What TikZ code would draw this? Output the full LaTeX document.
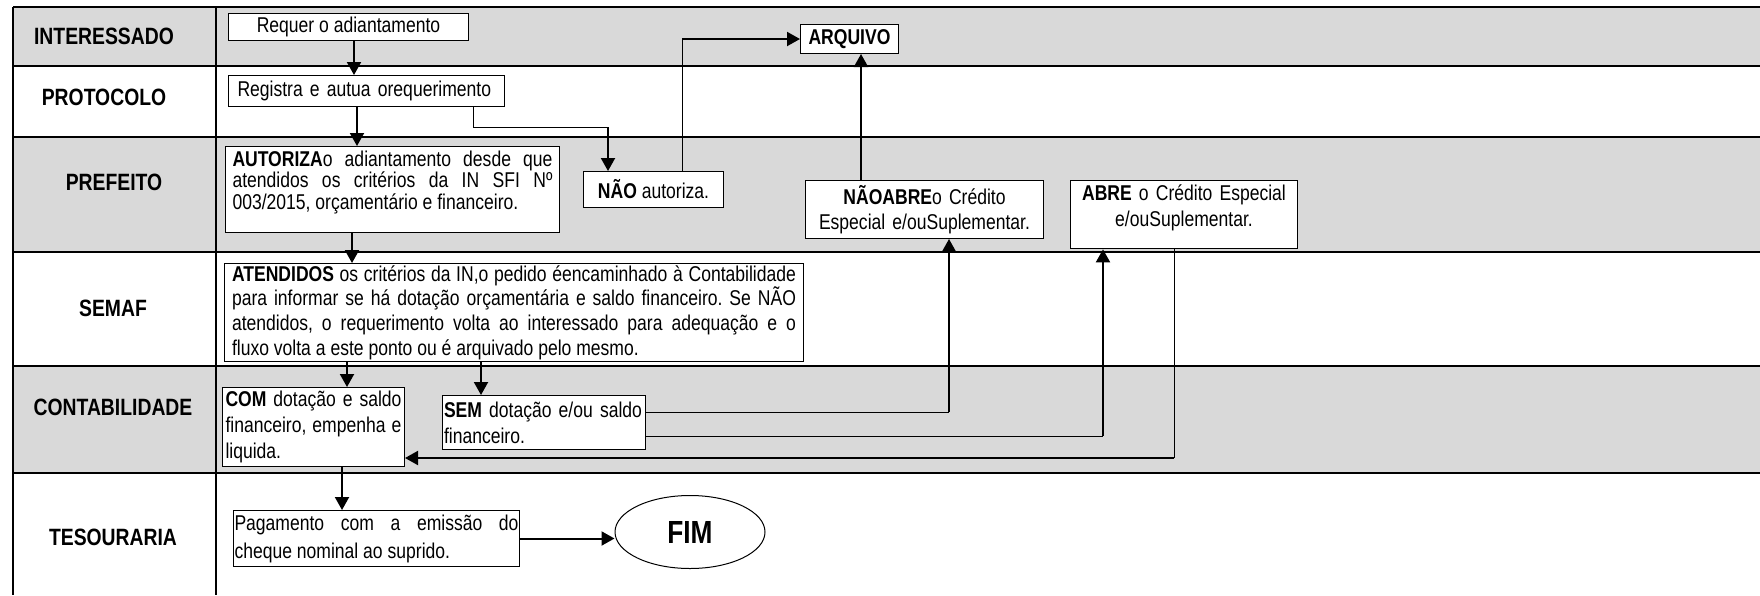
\documentclass[tikz,border=0pt]{standalone}
\usepackage{fontspec}
\setmainfont[FakeStretch=0.82]{Liberation Sans}
\usetikzlibrary{arrows.meta,shapes.geometric}

\definecolor{cinza}{HTML}{D9D9D9}

\tikzset{
  caixa/.style={draw, line width=0.5pt, fill=white, anchor=north west, inner sep=1pt,
    font=\fontsize{10.7pt}{12.5pt}\selectfont},
  raia/.style={font=\bfseries\fontsize{11.8pt}{14pt}\selectfont},
  fluxo/.style={line width=1pt, -{Triangle[length=6.5pt,width=7pt]}},
  ligacao/.style={line width=0.5pt},
  divisa/.style={line width=1pt}
}

\frenchspacing

\begin{document}
\begin{tikzpicture}[x=0.5pt,y=-0.5pt]

\useasboundingbox (0,0) rectangle (1760,595);

% Raias cinzas
\fill[cinza] (13,7) rectangle (1760,66);
\fill[cinza] (13,137) rectangle (1760,252);
\fill[cinza] (13,366) rectangle (1760,473);

% Linhas das raias
\draw[divisa] (13,7) -- (1760,7);
\draw[divisa] (13,66) -- (1760,66);
\draw[divisa] (13,137) -- (1760,137);
\draw[divisa] (13,252) -- (1760,252);
\draw[divisa] (13,366) -- (1760,366);
\draw[divisa] (13,473) -- (1760,473);
\draw[divisa] (13,7) -- (13,595);
\draw[divisa] (216,7) -- (216,595);

% Nomes das raias
\node[raia] (rInt) at (104,36) {INTERESSADO};
\node[raia] (rPro) at (104,97) {PROTOCOLO};
\node[raia] (rPre) at (114,182) {PREFEITO};
\node[raia] (rSem) at (113,308) {SEMAF};
\node[raia] (rCon) at (113,407) {CONTABILIDADE};
\node[raia] (rTes) at (113,537) {TESOURARIA};

% Caixas
\node[caixa, minimum width=120pt, minimum height=13.5pt] (req) at (228,13) {Requer o adiantamento};
\node[caixa, text width=129pt, inner xsep=4.5pt, minimum height=15.5pt, align=left] (reg) at (228,75) {Registra e autua orequerimento};
\node[caixa, text width=160pt, inner xsep=3.5pt, inner ysep=2pt, align=justify,
  font=\fontsize{10.7pt}{10.9pt}\selectfont] (aut) at (225,146)
  {\textbf{AUTORIZA}o adiantamento desde que\linebreak atendidos os critérios da IN SFI Nº\linebreak 003/2015, orçamentário e financeiro.\rule[-9.5pt]{0pt}{9.5pt}};
\node[caixa, minimum width=70pt, minimum height=18pt] (nao) at (583,171) {\textbf{NÃO} autoriza.};
\node[caixa, minimum width=49pt, minimum height=14.5pt, font=\bfseries\fontsize{10.7pt}{12pt}\selectfont] (arq) at (800,24) {ARQUIVO};
\node[caixa, text width=115pt, inner xsep=2pt, minimum height=29pt, align=center] (naoabre) at (805,180)
  {\textbf{NÃOABRE}o Crédito\\Especial e/ouSuplementar.};
\node[caixa, text width=109.5pt, inner xsep=2pt, inner ysep=2pt, align=center,
  font=\fontsize{10.7pt}{13.3pt}\selectfont] (abre) at (1070,180)
  {\textbf{ABRE} o Crédito Especial\\e/ouSuplementar.\rule[-9pt]{0pt}{9pt}};
\node[caixa, text width=282pt, inner xsep=3.75pt, inner ysep=1pt, align=justify,
  font=\fontsize{10.7pt}{12.3pt}\selectfont] (semaf) at (224,263)
  {\textbf{ATENDIDOS} os critérios da IN,o pedido éencaminhado à Contabilidade\linebreak para informar se há dotação orçamentária e saldo financeiro. Se NÃO\linebreak atendidos, o requerimento volta ao interessado para adequação e o\linebreak fluxo volta a este ponto ou é arquivado pelo mesmo.};
\node[caixa, text width=88pt, inner xsep=1.5pt, minimum height=39.5pt, align=justify,
  font=\fontsize{10.7pt}{12.8pt}\selectfont] (com) at (222,387)
  {\textbf{COM} dotação e saldo\linebreak financeiro, empenha e\linebreak liquida.};
\node[caixa, text width=100pt, inner xsep=0.75pt, minimum height=27pt, align=left,
  font=\fontsize{10.7pt}{13pt}\selectfont] (sem) at (442,395)
  {\textbf{SEM} dotação e/ou saldo\\financeiro.};
\node[caixa, text width=142pt, inner xsep=0.5pt, minimum height=28pt, align=justify,
  font=\fontsize{10.7pt}{14pt}\selectfont] (pag) at (233,510)
  {Pagamento com a emissão do\linebreak cheque nominal ao suprido.};
\node[draw, ellipse, line width=0.5pt, fill=white, minimum width=75pt, minimum height=36.5pt, inner sep=0pt,
  font=\bfseries\fontsize{16pt}{18pt}\selectfont] (fim) at (690,532) {FIM};

% Pontos de apoio
\coordinate (c1) at (354,0);
\coordinate (c2) at (357,0);
\coordinate (c3) at (352,0);
\coordinate (c4) at (347,0);
\coordinate (c5) at (481,0);
\coordinate (c6) at (342,0);
\coordinate (c7) at (861,0);
\coordinate (d1) at (473,127);
\coordinate (d2) at (608,127);
\coordinate (d3) at (682,39);
\coordinate (d4) at (949,412);
\coordinate (d5) at (1103,436);
\coordinate (d6) at (1174,458);

% Setas
\draw[fluxo] (req.south -| c1) -- (reg.north -| c1);
\draw[fluxo] (reg.south -| c2) -- (aut.north -| c2);
\draw[ligacao] (reg.south -| d1) -- (d1) -- (d2);
\draw[fluxo] (d2) -- (nao.north -| d2);
\draw[ligacao] (nao.north -| d3) -- (d3);
\draw[fluxo] (d3) -- (arq.west |- d3);
\draw[fluxo] (naoabre.north -| c7) -- (arq.south -| c7);
\draw[fluxo] (aut.south -| c3) -- (semaf.north -| c3);
\draw[fluxo] (semaf.south -| c4) -- (com.north -| c4);
\draw[fluxo] (semaf.south -| c5) -- (sem.north -| c5);
\draw[ligacao] (sem.east |- d4) -- (d4);
\draw[fluxo] (d4) -- (naoabre.south -| d4);
\draw[ligacao] (sem.east |- d5) -- (d5);
\draw[fluxo] (d5) -- (abre.south -| d5);
\draw[ligacao] (abre.south -| d6) -- (d6);
\draw[fluxo] (d6) -- (com.east |- d6);
\draw[fluxo] (com.south -| c6) -- (pag.north -| c6);
\draw[fluxo] (pag.east) -- (pag.east -| fim.west);

\end{tikzpicture}
\end{document}
